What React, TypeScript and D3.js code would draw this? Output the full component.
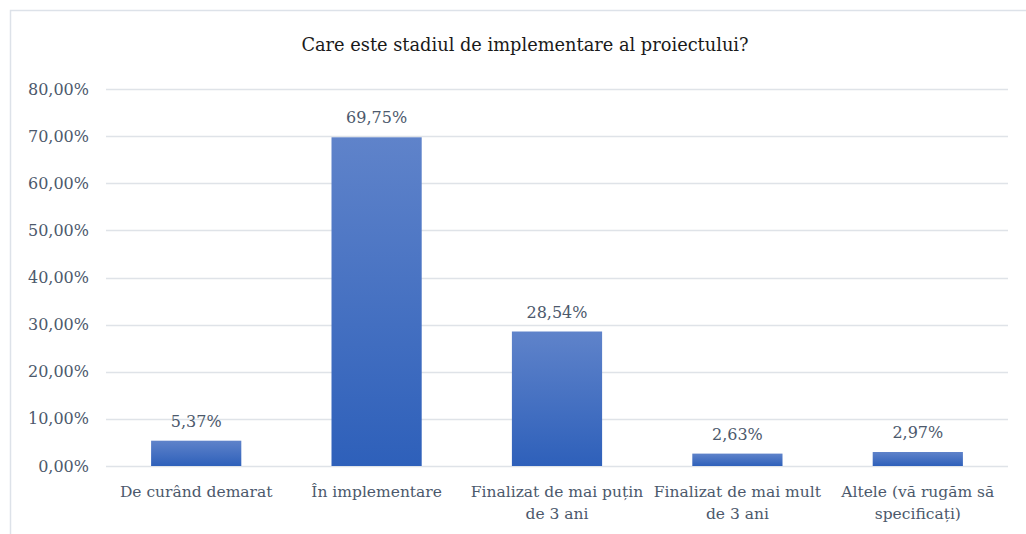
import React, { useEffect, useRef } from "react";
import * as d3 from "d3";

const title = "Care este stadiul de implementare al proiectului?";
const categories = [
  "De curând demarat",
  "În implementare",
  "Finalizat de mai puțin de 3 ani",
  "Finalizat de mai mult de 3 ani",
  "Altele (vă rugăm să specificați)",
];
const values = [5.37, 69.75, 28.54, 2.63, 2.97];
const yTicks = [0, 10, 20, 30, 40, 50, 60, 70, 80];

const W = 1026;
const H = 534;
const FONT = "'DejaVu Serif', serif";
const TEXT = "#4c596c";

const fmt = (v: number) => v.toFixed(2).replace(".", ",") + "%";

export default function App() {
  const ref = useRef<SVGSVGElement>(null);

  useEffect(() => {
    const svg = d3.select(ref.current);
    svg.selectAll("*").remove();

    const margin = { left: 106, right: 18, top: 89, bottom: 68 };
    const x = d3
      .scaleBand<string>()
      .domain(categories)
      .range([margin.left, W - margin.right])
      .paddingInner(0.5)
      .paddingOuter(0.25);
    const y = d3.scaleLinear().domain([0, 80]).range([H - margin.bottom, margin.top]);

    const defs = svg.append("defs");
    const grad = defs
      .append("linearGradient")
      .attr("id", "barGrad")
      .attr("x1", 0)
      .attr("y1", 0)
      .attr("x2", 0)
      .attr("y2", 1);
    grad.append("stop").attr("offset", "0%").attr("stop-color", "#5f83ca");
    grad.append("stop").attr("offset", "100%").attr("stop-color", "#2e60ba");

    svg
      .append("rect")
      .attr("x", 10.5)
      .attr("y", 10.5)
      .attr("width", W + 20)
      .attr("height", H + 20)
      .attr("fill", "#fff")
      .attr("stroke", "#dde2e9")
      .attr("stroke-width", 1.5);

    svg
      .append("text")
      .attr("x", 525)
      .attr("y", 51)
      .attr("text-anchor", "middle")
      .attr("font-family", FONT)
      .attr("font-size", 17.8)
      .attr("fill", "#1a1a1a")
      .text(title);

    // grid
    svg
      .append("g")
      .selectAll("line")
      .data(yTicks)
      .join("line")
      .attr("x1", margin.left)
      .attr("x2", W - margin.right)
      .attr("y1", (d) => Math.round(y(d)) + 0.5)
      .attr("y2", (d) => Math.round(y(d)) + 0.5)
      .attr("stroke", "#dfe3e8")
      .attr("stroke-width", 1.5);

    svg
      .append("g")
      .selectAll("text")
      .data(yTicks)
      .join("text")
      .attr("x", 89)
      .attr("y", (d) => y(d))
      .attr("dy", "0.35em")
      .attr("text-anchor", "end")
      .attr("font-family", FONT)
      .attr("font-size", 16)
      .attr("fill", TEXT)
      .text((d) => fmt(d));

    svg
      .append("g")
      .selectAll("rect")
      .data(values)
      .join("rect")
      .attr("x", (_, i) => x(categories[i])!)
      .attr("width", x.bandwidth())
      .attr("y", (d) => y(d))
      .attr("height", (d) => y(0) - y(d))
      .attr("fill", "url(#barGrad)");

    svg
      .append("g")
      .selectAll("text")
      .data(values)
      .join("text")
      .attr("x", (_, i) => x(categories[i])! + x.bandwidth() / 2)
      .attr("y", (d) => y(d) - 14)
      .attr("text-anchor", "middle")
      .attr("font-family", FONT)
      .attr("font-size", 16)
      .attr("fill", TEXT)
      .text((d) => fmt(d));

    // category labels with wrapping
    const maxW = x.step() - 2;
    const g = svg.append("g");
    categories.forEach((c) => {
      const cx = x(c)! + x.bandwidth() / 2;
      const t = g
        .append("text")
        .attr("x", cx)
        .attr("y", 497)
        .attr("text-anchor", "middle")
        .attr("font-family", FONT)
        .attr("font-size", 15.5)
        .attr("fill", TEXT);
      const words = c.split(" ");
      let line: string[] = [];
      let tspan = t.append("tspan").attr("x", cx).attr("dy", 0);
      for (const w of words) {
        line.push(w);
        tspan.text(line.join(" "));
        if ((tspan.node() as SVGTSpanElement).getComputedTextLength() > maxW && line.length > 1) {
          line.pop();
          tspan.text(line.join(" "));
          line = [w];
          tspan = t.append("tspan").attr("x", cx).attr("dy", 21.5).text(w);
        }
      }
    });
  }, []);

  return (
    <div style={{ position: "absolute", left: 0, top: 0, width: W, height: H, overflow: "hidden" }}>
      <svg ref={ref} width={W} height={H} style={{ display: "block" }} />
    </div>
  );
}
